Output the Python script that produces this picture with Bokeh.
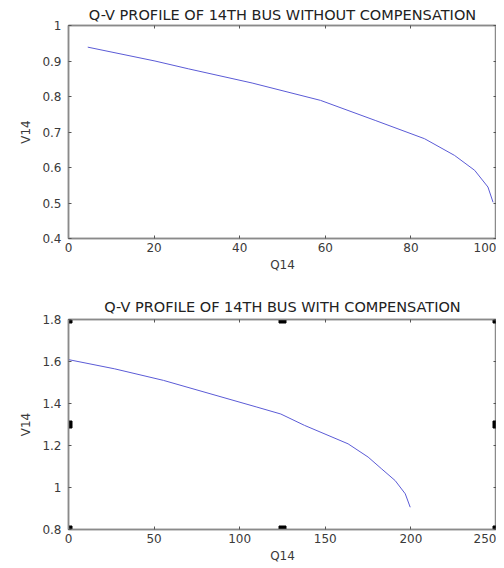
from bokeh.plotting import figure
from bokeh.layouts import column
from bokeh.models import FixedTicker, LinearAxis, Range1d
from bokeh.embed import file_html
from bokeh.resources import INLINE

# Top chart: without compensation
q_without = [4.5, 20.2, 28.0, 42.9, 58.9, 71.8, 83.2, 90.2, 94.9, 98.0, 99.2]
v_without = [0.939, 0.900, 0.878, 0.838, 0.789, 0.732, 0.681, 0.634, 0.592, 0.545, 0.502]
x1_ticks = [0, 20, 40, 60, 80, 100]
x1_labels = ["0", "20", "40", "60", "80", "100"]
y1_ticks = [0.4, 0.5, 0.6, 0.7, 0.8, 0.9, 1.0]
y1_labels = ["0.4", "0.5", "0.6", "0.7", "0.8", "0.9", "1"]

# Bottom chart: with compensation
q_with = [0, 27, 55.5, 69.2, 110, 124, 137.8, 163.3, 175, 183, 190.8, 196.7, 199.6]
v_with = [1.609, 1.565, 1.51, 1.478, 1.383, 1.35, 1.296, 1.208, 1.145, 1.088, 1.033, 0.97, 0.906]
x2_ticks = [0, 50, 100, 150, 200, 250]
x2_labels = ["0", "50", "100", "150", "200", "250"]
y2_ticks = [0.8, 1.0, 1.2, 1.4, 1.6, 1.8]
y2_labels = ["0.8", "1", "1.2", "1.4", "1.6", "1.8"]
# selection handles seen around the pasted image
handle_x = [0, 0, 0, 125, 125, 250, 250, 250]
handle_y = [0.8, 1.3, 1.8, 0.8, 1.8, 0.8, 1.3, 1.8]

FRAME = "#8a8a8a"
TEXT = "#3a3a3a"
LINE = "#5b5bd6"
FONT = "DejaVu Sans"


def style(p, xt, xl, yt, yl, title_standoff):
    p.grid.visible = False
    p.outline_line_color = FRAME
    p.outline_line_width = 1.5
    p.title.text_font = FONT
    p.title.text_font_size = "14.5px"
    p.title.text_font_style = "normal"
    p.title.text_color = "#222222"
    p.title.align = "center"
    p.title.standoff = title_standoff
    p.title.offset = 0
    for ax in p.xaxis:
        ax.ticker = FixedTicker(ticks=xt)
        ax.major_label_overrides = {t: l for t, l in zip(xt, xl)}
        ax.major_label_standoff = 4
        ax.axis_label_standoff = 3
    for ax in p.yaxis:
        ax.ticker = FixedTicker(ticks=yt)
        ax.major_label_overrides = {t: l for t, l in zip(yt, yl)}
        ax.major_label_standoff = 7
        ax.axis_label_standoff = 6
    for ax in p.axis:
        ax.axis_line_color = FRAME
        ax.axis_line_width = 1.5
        ax.major_tick_in = 3
        ax.major_tick_out = 0
        ax.major_tick_line_color = "#555555"
        ax.minor_tick_line_color = None
        ax.major_label_text_font = FONT
        ax.major_label_text_font_size = "12px"
        ax.major_label_text_color = TEXT
        ax.axis_label_text_font = FONT
        ax.axis_label_text_font_size = "12px"
        ax.axis_label_text_font_style = "normal"
        ax.axis_label_text_color = TEXT
    # mirrored axes (inner ticks, no labels)
    for side, t in (("right", yt), ("above", xt)):
        a = LinearAxis(ticker=FixedTicker(ticks=t),
                       major_label_overrides={v: "" for v in t},
                       major_label_text_color=None,
                       axis_line_color=FRAME, axis_line_width=1.5,
                       major_tick_in=3, major_tick_out=0,
                       major_tick_line_color="#555555", minor_tick_line_color=None,
                       major_label_standoff=0)
        p.add_layout(a, side)


p1 = figure(width=496, height=278, output_backend="svg", toolbar_location=None,
            title="Q-V PROFILE OF 14TH BUS WITHOUT COMPENSATION",
            x_range=Range1d(0, 100), y_range=Range1d(0.4, 1.0),
            x_axis_label="Q14", y_axis_label="V14",
            min_border_left=68, min_border_right=0, min_border_top=25, min_border_bottom=40)
p1.line(q_without, v_without, line_color=LINE, line_width=1)
style(p1, x1_ticks, x1_labels, y1_ticks, y1_labels, 6)

p2 = figure(width=496, height=288, output_backend="svg", toolbar_location=None,
            title="Q-V PROFILE OF 14TH BUS WITH COMPENSATION",
            x_range=Range1d(0, 250), y_range=Range1d(0.8, 1.8),
            x_axis_label="Q14", y_axis_label="V14",
            min_border_left=68, min_border_right=0, min_border_top=41, min_border_bottom=37)
p2.line(q_with, v_with, line_color=LINE, line_width=1)
p2.scatter(handle_x, handle_y, marker="square", size=7, color="black")
style(p2, x2_ticks, x2_labels, y2_ticks, y2_labels, 10)

layout = column(p1, p2)
open("out.html", "w").write(file_html(layout, INLINE))
